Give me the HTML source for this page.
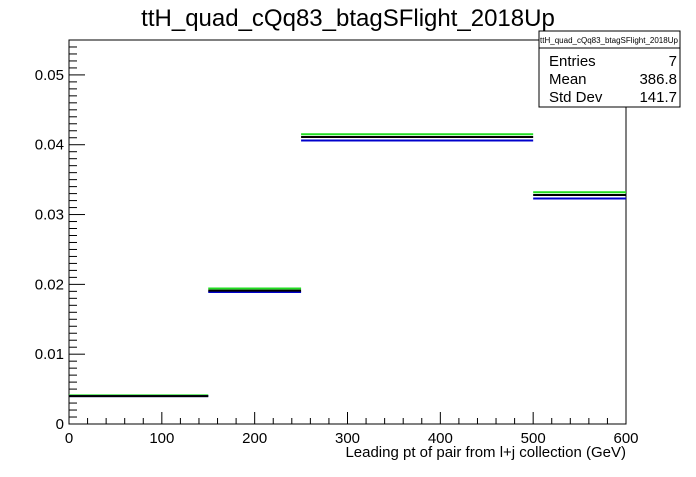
<!DOCTYPE html>
<html><head><meta charset="utf-8"><style>
body{margin:0;background:#fff;font-family:"Liberation Sans",sans-serif}
</style></head><body>
<svg width="696" height="472" xmlns="http://www.w3.org/2000/svg" font-family="Liberation Sans, sans-serif">
<rect width="696" height="472" fill="#fff"/>
<text x="348" y="26" font-size="24" text-anchor="middle">ttH_quad_cQq83_btagSFlight_2018Up</text>
<g id="axes"></g>
<g id="marks"></g>
<g>
<rect x="539" y="31" width="141" height="76" fill="#fff" stroke="#000"/>
<text x="609" y="43" font-size="8" text-anchor="middle">ttH_quad_cQq83_btagSFlight_2018Up</text>
<line x1="539" y1="48" x2="680" y2="48" stroke="#000"/>
<text x="549" y="66" font-size="15">Entries</text><text x="677" y="66" font-size="15" text-anchor="end">7</text>
<text x="549" y="84" font-size="15">Mean</text><text x="677" y="84" font-size="15" text-anchor="end">386.8</text>
<text x="549" y="102" font-size="15">Std Dev</text><text x="677" y="102" font-size="15" text-anchor="end">141.7</text>
</g>
<text x="626" y="457" font-size="15" text-anchor="end">Leading pt of pair from l+j collection (GeV)</text>
</svg>
<script>
const binEdges=[0,150,250,500,600];
const greenVals=[0.0041,0.0194,0.0415,0.0332];
const blueVals=[0.0040,0.0189,0.0406,0.0323];
const blackVals=[0.0040,0.0191,0.0411,0.0328];
const xTicks=[0,100,200,300,400,500,600];
const yTicks=[0,0.01,0.02,0.03,0.04,0.05];
const yTickLabels=["0","0.01","0.02","0.03","0.04","0.05"];
const NS="http://www.w3.org/2000/svg";
const L=69,R=626,T=40,B=424;
const xs=v=>L+(v-0)/600*(R-L);
const ys=v=>B-v/0.055*(B-T);
function mk(tag,attrs,parent){const e=document.createElementNS(NS,tag);for(const k in attrs)e.setAttribute(k,attrs[k]);parent.appendChild(e);return e;}
const ax=document.getElementById('axes'),mg=document.getElementById('marks');
const fr=mk('rect',{x:L,y:T,width:R-L,height:B-T,fill:'none',stroke:'#000','stroke-width':1},ax);


for(let v=0;v<=600;v+=20){const big=v%100===0;mk('line',{x1:xs(v),x2:xs(v),y1:B,y2:B-(big?12:6),stroke:'#000'},ax);}
xTicks.forEach(v=>{const t=mk('text',{x:xs(v),y:B+19,'font-size':15,'text-anchor':'middle'},ax);t.textContent=v;

});
for(let i=0;i<=55;i++){const v=i*0.001;const big=i%10===0;mk('line',{x1:L,x2:L+(big?16:8),y1:ys(v),y2:ys(v),stroke:'#000'},ax);}
yTicks.forEach((v,i)=>{const t=mk('text',{x:L-5,y:ys(v)+5,'font-size':15,'text-anchor':'end'},ax);t.textContent=yTickLabels[i];

});
[[greenVals,'#22dd22','green'],[blueVals,'#0000cc','blue'],[blackVals,'#000','black']].forEach(([vals,c,n])=>{
vals.forEach((v,i)=>{const l=mk('line',{x1:xs(binEdges[i]),x2:xs(binEdges[i+1]),y1:ys(v),y2:ys(v),stroke:c,'stroke-width':2},mg);

});});
</script>
</body></html>
